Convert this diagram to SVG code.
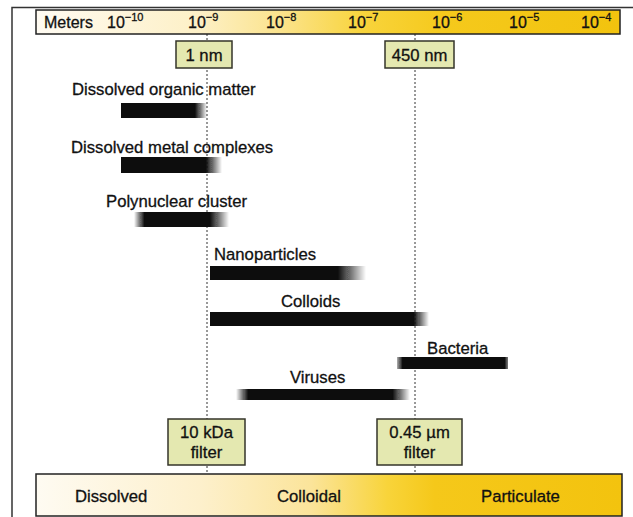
<svg xmlns="http://www.w3.org/2000/svg" width="633" height="517" viewBox="0 0 633 517">
<style>
  text { font-family: "Liberation Sans", Arial, sans-serif; fill: #111; stroke: #111; stroke-width: 0.3; }
  .lbl { font-size: 16.7px; }
  .sc { font-size: 16px; }
  .sup { font-size: 11px; }
  .box { fill: #e4e8b0; stroke: #35352a; stroke-width: 1.5; }
  .bar { stroke: #222; stroke-width: 1.5; }
  .dot { stroke: #333; stroke-width: 1; stroke-dasharray: 2 2; fill: none; }
  .frame { stroke: #333; stroke-width: 1.5; fill: none; }
</style>
<defs>
  <linearGradient id="gTop" x1="0" y1="0" x2="1" y2="0">
    <stop offset="0" stop-color="#fffbf2"/>
    <stop offset="0.28" stop-color="#fdf0c6"/>
    <stop offset="0.42" stop-color="#fbe38c"/>
    <stop offset="0.56" stop-color="#f8d43c"/>
    <stop offset="0.7" stop-color="#f5c91c"/>
    <stop offset="1" stop-color="#f2c30e"/>
  </linearGradient>
  <linearGradient id="gBot" x1="0" y1="0" x2="1" y2="0">
    <stop offset="0" stop-color="#fefbf2"/>
    <stop offset="0.28" stop-color="#fdf0cc"/>
    <stop offset="0.47" stop-color="#fbe49a"/>
    <stop offset="0.6" stop-color="#f8d43a"/>
    <stop offset="0.68" stop-color="#f5c81a"/>
    <stop offset="1" stop-color="#f3c30e"/>
  </linearGradient>
  <filter id="soft" x="-5%" y="-30%" width="110%" height="160%">
    <feGaussianBlur stdDeviation="0.6"/>
  </filter>
  <linearGradient id="bDOM" gradientUnits="userSpaceOnUse" x1="121" y1="0" x2="207" y2="0">
    <stop offset="0" stop-color="#0a0a0a"/>
    <stop offset="0.86" stop-color="#0a0a0a"/>
    <stop offset="1" stop-color="#0a0a0a" stop-opacity="0"/>
  </linearGradient>
  <linearGradient id="bDMC" gradientUnits="userSpaceOnUse" x1="121" y1="0" x2="222" y2="0">
    <stop offset="0" stop-color="#0a0a0a"/>
    <stop offset="0.84" stop-color="#0a0a0a"/>
    <stop offset="1" stop-color="#0a0a0a" stop-opacity="0"/>
  </linearGradient>
  <linearGradient id="bPOLY" gradientUnits="userSpaceOnUse" x1="134" y1="0" x2="229" y2="0">
    <stop offset="0" stop-color="#0a0a0a" stop-opacity="0"/>
    <stop offset="0.11" stop-color="#0a0a0a"/>
    <stop offset="0.8" stop-color="#0a0a0a"/>
    <stop offset="1" stop-color="#0a0a0a" stop-opacity="0"/>
  </linearGradient>
  <linearGradient id="bNANO" gradientUnits="userSpaceOnUse" x1="210" y1="0" x2="366" y2="0">
    <stop offset="0" stop-color="#0a0a0a"/>
    <stop offset="0.82" stop-color="#0a0a0a"/>
    <stop offset="1" stop-color="#0a0a0a" stop-opacity="0"/>
  </linearGradient>
  <linearGradient id="bCOL" gradientUnits="userSpaceOnUse" x1="210" y1="0" x2="429" y2="0">
    <stop offset="0" stop-color="#0a0a0a"/>
    <stop offset="0.93" stop-color="#0a0a0a"/>
    <stop offset="1" stop-color="#0a0a0a" stop-opacity="0"/>
  </linearGradient>
  <linearGradient id="bBAC" gradientUnits="userSpaceOnUse" x1="397" y1="0" x2="508" y2="0">
    <stop offset="0" stop-color="#0a0a0a" stop-opacity="0.3"/>
    <stop offset="0.05" stop-color="#0a0a0a"/>
    <stop offset="0.97" stop-color="#0a0a0a"/>
    <stop offset="1" stop-color="#0a0a0a" stop-opacity="0.5"/>
  </linearGradient>
  <linearGradient id="bVIR" gradientUnits="userSpaceOnUse" x1="236" y1="0" x2="410" y2="0">
    <stop offset="0" stop-color="#0a0a0a" stop-opacity="0"/>
    <stop offset="0.07" stop-color="#0a0a0a"/>
    <stop offset="0.9" stop-color="#0a0a0a"/>
    <stop offset="1" stop-color="#0a0a0a" stop-opacity="0"/>
  </linearGradient>
</defs>

<rect x="0" y="0" width="633" height="517" fill="#ffffff"/>

<!-- frame -->
<g id="frame">
  <path class="frame" d="M12 517 V7.5 H633"/>
</g>

<!-- connectors: dotted reference lines -->
<g id="connectors">
  <line class="dot" x1="207" y1="34" x2="207" y2="474"/>
  <line class="dot" x1="415" y1="34" x2="415" y2="474"/>
</g>

<!-- scale bar -->
<g id="scale">
  <rect class="bar" x="36" y="10" width="584" height="24" fill="url(#gTop)"/>
  <text class="sc" x="44" y="28">Meters</text>
  <text class="sc" x="107" y="28">10<tspan class="sup" dy="-7">−10</tspan></text>
  <text class="sc" x="188" y="28">10<tspan class="sup" dy="-7">−9</tspan></text>
  <text class="sc" x="266" y="28">10<tspan class="sup" dy="-7">−8</tspan></text>
  <text class="sc" x="348" y="28">10<tspan class="sup" dy="-7">−7</tspan></text>
  <text class="sc" x="432" y="28">10<tspan class="sup" dy="-7">−6</tspan></text>
  <text class="sc" x="509" y="28">10<tspan class="sup" dy="-7">−5</tspan></text>
  <text class="sc" x="581" y="28">10<tspan class="sup" dy="-7">−4</tspan></text>
</g>

<g id="n1nm">
  <rect class="box" x="176" y="41" width="56" height="27"/>
  <text class="lbl" x="204" y="61" text-anchor="middle">1 nm</text>
</g>
<g id="n450nm">
  <rect class="box" x="385" y="41" width="69" height="27"/>
  <text class="lbl" x="419.5" y="61" text-anchor="middle">450 nm</text>
</g>

<g id="dom">
  <text class="lbl" x="72" y="95">Dissolved organic matter</text>
  <rect x="121" y="103" width="86" height="15" fill="url(#bDOM)" filter="url(#soft)"/>
</g>
<g id="dmc">
  <text class="lbl" x="71" y="153">Dissolved metal complexes</text>
  <rect x="121" y="157" width="101" height="16" fill="url(#bDMC)" filter="url(#soft)"/>
</g>
<g id="poly">
  <text class="lbl" x="106" y="207">Polynuclear cluster</text>
  <rect x="134" y="212" width="95" height="15" fill="url(#bPOLY)" filter="url(#soft)"/>
</g>
<g id="nano">
  <text class="lbl" x="214" y="260">Nanoparticles</text>
  <rect x="210" y="266" width="156" height="14" fill="url(#bNANO)" filter="url(#soft)"/>
</g>
<g id="colloids">
  <text class="lbl" x="281" y="307">Colloids</text>
  <rect x="210" y="312" width="219" height="14" fill="url(#bCOL)" filter="url(#soft)"/>
</g>
<g id="bacteria">
  <text class="lbl" x="427" y="354">Bacteria</text>
  <rect x="397" y="357" width="111" height="12" fill="url(#bBAC)" filter="url(#soft)"/>
</g>
<g id="viruses">
  <text class="lbl" x="290" y="383">Viruses</text>
  <rect x="236" y="389" width="174" height="11" fill="url(#bVIR)" filter="url(#soft)"/>
</g>

<g id="f10kda">
  <rect class="box" x="168" y="419" width="77" height="46"/>
  <text class="lbl" x="206.5" y="438" text-anchor="middle">10 kDa</text>
  <text class="lbl" x="206.5" y="458" text-anchor="middle">filter</text>
</g>
<g id="f045">
  <rect class="box" x="377" y="419" width="85" height="46"/>
  <text class="lbl" x="419.5" y="438" text-anchor="middle">0.45 µm</text>
  <text class="lbl" x="419.5" y="458" text-anchor="middle">filter</text>
</g>

<g id="phase">
  <rect class="bar" x="36" y="474" width="586" height="42" fill="url(#gBot)"/>
  <text class="lbl" x="75" y="502">Dissolved</text>
  <text class="lbl" x="309" y="502" text-anchor="middle">Colloidal</text>
  <text class="lbl" x="481" y="502">Particulate</text>
</g>
</svg>
